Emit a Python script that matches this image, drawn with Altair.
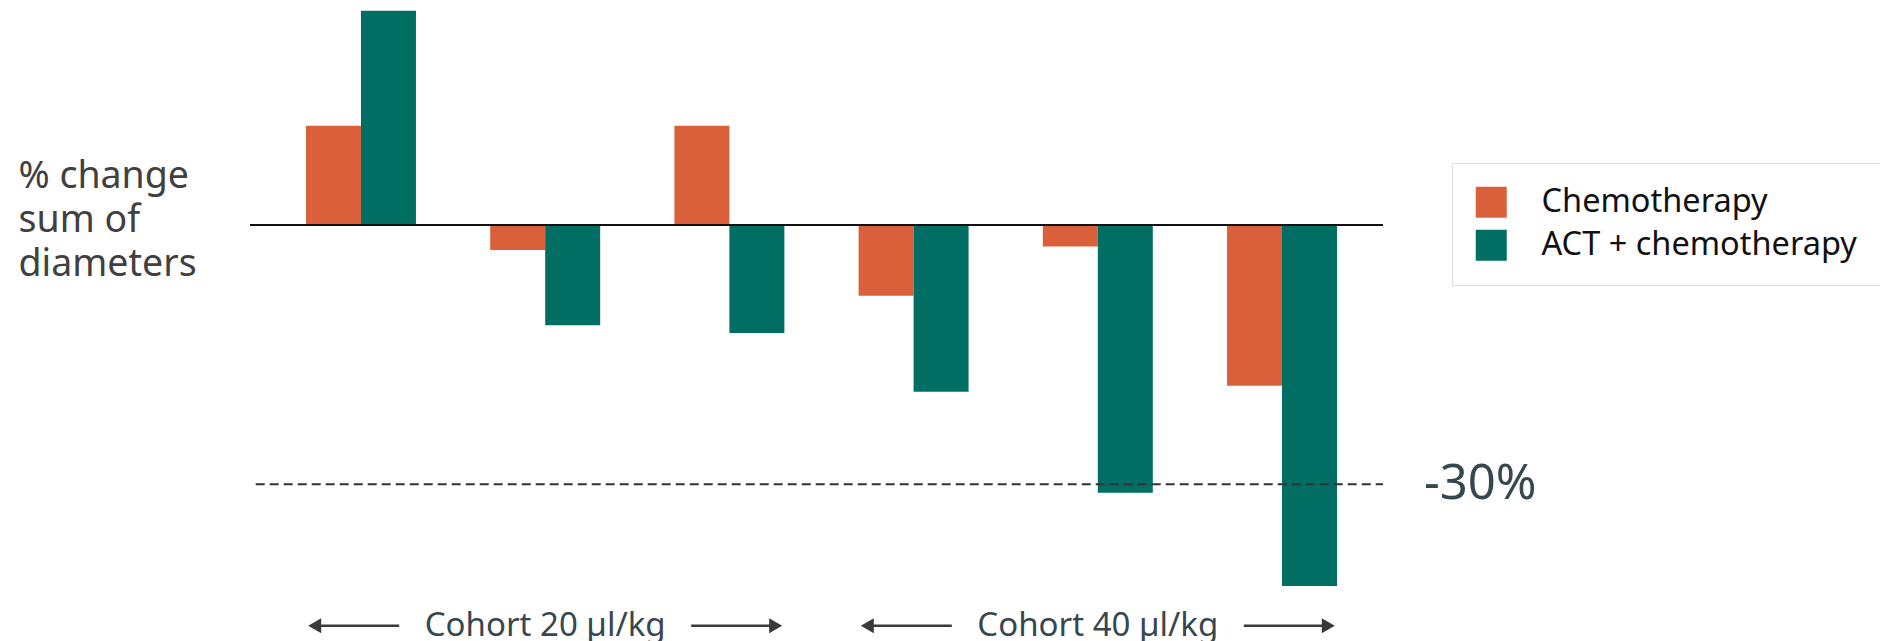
import altair as alt
import pandas as pd

# ---- data ----
groups = ["1", "2", "3", "4", "5", "6"]
series = ["Chemotherapy", "ACT + chemotherapy"]
chemo = [11.5, -2.9, 11.5, -8.2, -2.5, -18.6]
act = [24.8, -11.6, -12.5, -19.3, -31.0, -41.8]
colors = ["#d9603b", "#006e63"]
ylabel = ["% change", "sum of", "diameters"]
threshold = [-30]
threshold_label = ["-30%"]
cohorts = ["Cohort 20 µl/kg", "Cohort 40 µl/kg"]
cohort_mid = ["2", "5"]
cohort_y = [-46.4, -46.4]

rows = []
for g, c, a in zip(groups, chemo, act):
    rows.append({"group": g, "series": series[0], "value": c})
    rows.append({"group": g, "series": series[1], "value": a})
bars_df = pd.DataFrame(rows)
coh_df = pd.DataFrame({"mid": cohort_mid, "label": cohorts, "y": cohort_y})
thr_df = pd.DataFrame({"y": threshold, "label": threshold_label})
zero_df = pd.DataFrame({"y": [0]})

W, H = 1143, 622
FONT = "Noto Sans"
xscale = alt.Scale(domain=groups, paddingInner=0.403, paddingOuter=0.304)
yscale = alt.Scale(domain=[-47, 25], nice=False, zero=False)
yaxis = alt.Axis(
    title=ylabel, titleAngle=0, titleAlign="left", titleX=-232, titleY=178,
    titleBaseline="alphabetic", titleFont=FONT, titleFontSize=37.5,
    titleFontWeight="normal", titleColor="#404040", titleLineHeight=44,
    domain=False, ticks=False, labels=False, grid=False,
)

bars = alt.Chart(bars_df).mark_bar(strokeWidth=0).encode(
    x=alt.X("group:N", scale=xscale, axis=None),
    xOffset=alt.XOffset("series:N", sort=series,
                        scale=alt.Scale(domain=series, paddingInner=0, paddingOuter=0)),
    y=alt.Y("value:Q", scale=yscale, axis=yaxis),
    color=alt.Color(
        "series:N",
        scale=alt.Scale(domain=series, range=colors),
        legend=alt.Legend(
            title=None, orient="none", legendX=1202, legendY=154,
            symbolType="square", symbolSize=961, symbolStrokeWidth=0,
            labelFont=FONT, labelFontSize=32.5, labelColor="#111111",
            labelOffset=34, rowPadding=10, padding=23, labelLimit=500,
            strokeColor="#dddddd", fillColor="white",
        ),
    ),
)

zero = alt.Chart(zero_df).mark_rule(color="#111111", strokeWidth=2).encode(
    y=alt.Y("y:Q", scale=yscale, axis=yaxis),
    x=alt.value(0), x2=alt.value(1133),
)

thr = alt.Chart(thr_df).mark_rule(color="#333333", strokeWidth=2, strokeDash=[9, 5]).encode(
    y=alt.Y("y:Q", scale=yscale, axis=yaxis),
    x=alt.value(5.7), x2=alt.value(1133),
)

thr_text = alt.Chart(thr_df).mark_text(
    align="left", baseline="alphabetic", dy=15, font=FONT, fontSize=49, color="#37474f"
).encode(
    y=alt.Y("y:Q", scale=yscale, axis=yaxis),
    x=alt.value(1174),
    text="label:N",
)

coh_text = alt.Chart(coh_df).mark_text(
    align="center", baseline="alphabetic", dy=10.5, font=FONT, fontSize=33, color="#37474f"
).encode(
    x=alt.X("mid:N", scale=xscale, axis=None),
    y=alt.Y("y:Q", scale=yscale, axis=yaxis),
    text="label:N",
)

ARROW = "#3a3a3a"
left_line = alt.Chart(coh_df).mark_rule(color=ARROW, strokeWidth=2.5, xOffset=-232, x2Offset=-146).encode(
    x=alt.X("mid:N", scale=xscale, axis=None), x2="mid:N",
    y=alt.Y("y:Q", scale=yscale, axis=yaxis),
)
right_line = alt.Chart(coh_df).mark_rule(color=ARROW, strokeWidth=2.5, xOffset=146, x2Offset=232).encode(
    x=alt.X("mid:N", scale=xscale, axis=None), x2="mid:N",
    y=alt.Y("y:Q", scale=yscale, axis=yaxis),
)
left_head = alt.Chart(coh_df).mark_point(
    shape="triangle-left", filled=True, size=225, xOffset=-230.5, color=ARROW, opacity=1, strokeWidth=0
).encode(
    x=alt.X("mid:N", scale=xscale, axis=None),
    y=alt.Y("y:Q", scale=yscale, axis=yaxis),
)
right_head = alt.Chart(coh_df).mark_point(
    shape="triangle-right", filled=True, size=225, xOffset=230.5, color=ARROW, opacity=1, strokeWidth=0
).encode(
    x=alt.X("mid:N", scale=xscale, axis=None),
    y=alt.Y("y:Q", scale=yscale, axis=yaxis),
)

chart = alt.layer(
    bars, zero, thr, thr_text, coh_text, left_line, right_line, left_head, right_head
).properties(
    width=W, height=H,
    padding={"left": 242, "top": 1, "right": 487, "bottom": 10},
    autosize=alt.AutoSizeParams(type="none"),
).configure_view(strokeWidth=0).configure_text(font=FONT)

chart.save("out.html", embed_options={"renderer": "svg", "actions": False})
